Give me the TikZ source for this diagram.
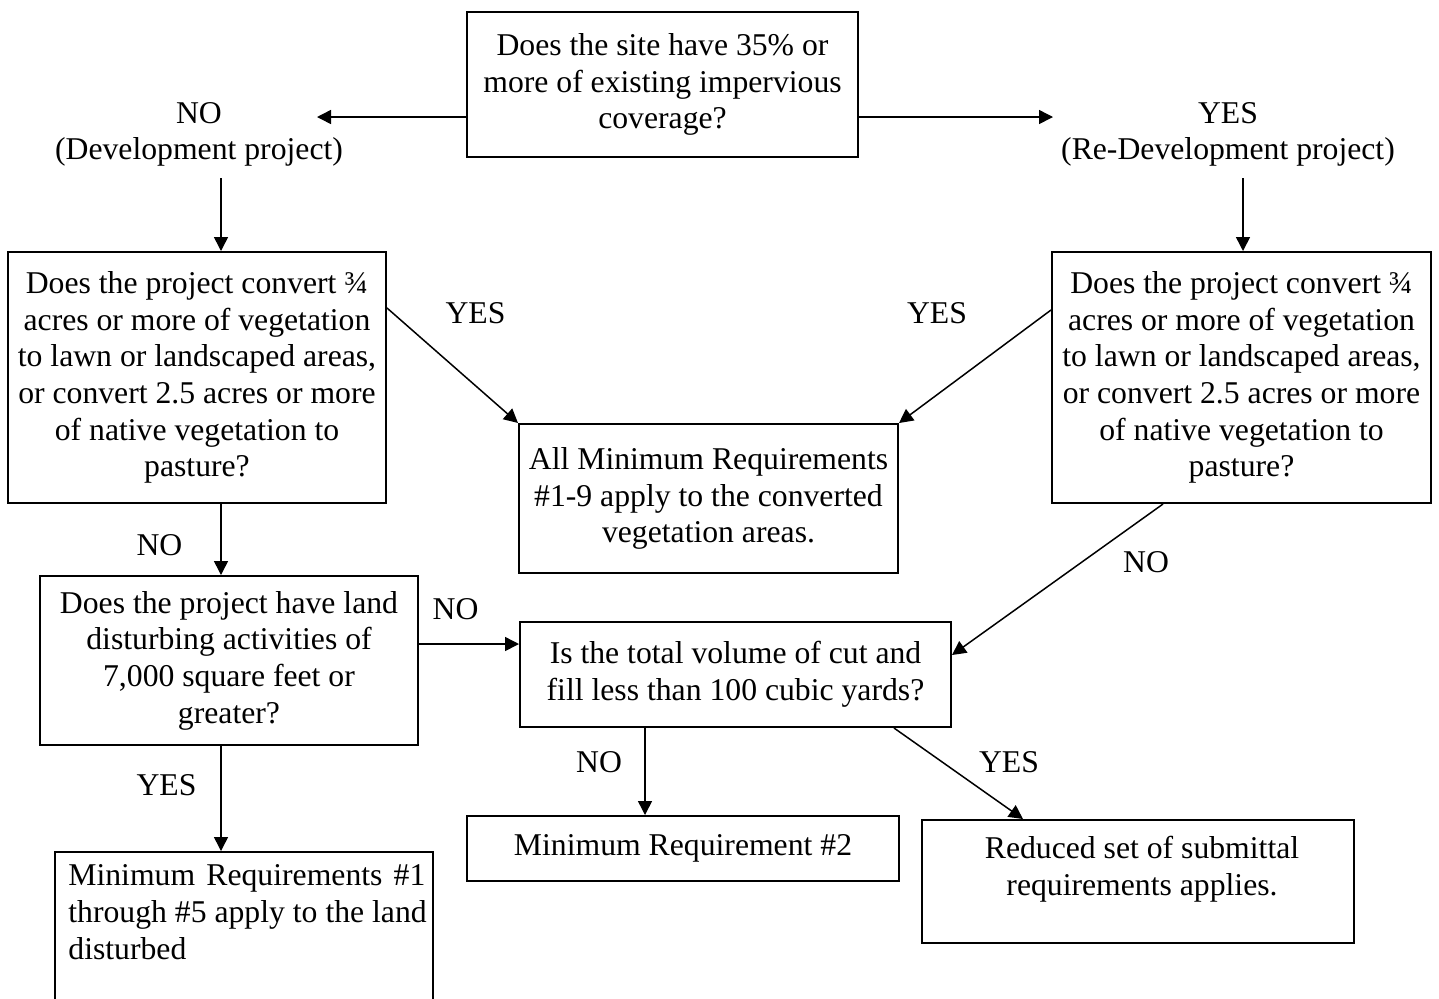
\documentclass[tikz,border=0pt]{standalone}
\usepackage{fontspec}
\setmainfont{Liberation Serif}
\usetikzlibrary{arrows.meta}
\begin{document}
\begin{tikzpicture}[x=0.5pt,y=-0.5pt,
  font=\fontsize{15.85}{18.35}\selectfont,
  box/.style={draw, line width=1pt, inner sep=0pt, align=center, rectangle},
  arr/.style={-{Triangle[length=7pt,width=7pt]}, line width=0.75pt},
  lbl/.style={inner sep=0pt, align=center}]
\useasboundingbox (0,0) rectangle (1439,998);
\fill[white] (0,0) rectangle (1439,998);
\clip (0,0) rectangle (1439,998);

% boxes
\node[box, minimum width=195.5pt, minimum height=72.5pt] (top) at (662.5,84.5)
  {Does the site have 35\% or\\more of existing impervious\\coverage?};
\node[box, minimum width=189pt, minimum height=125.5pt] (lb1) at (197,377.5)
  {Does the project convert ¾\\acres or more of vegetation\\to lawn or landscaped areas,\\or convert 2.5 acres or more\\of native vegetation to\\pasture?};
\node[box, minimum width=189.5pt, minimum height=125.5pt] (rb1) at (1241.5,377.5)
  {Does the project convert ¾\\acres or more of vegetation\\to lawn or landscaped areas,\\or convert 2.5 acres or more\\of native vegetation to\\pasture?};
\node[box, minimum width=189.5pt, minimum height=74.5pt] (mid) at (708.5,498.5)
  {All Minimum Requirements\\\#1-9 apply to the converted\\vegetation areas.};
\node[box, minimum width=189pt, minimum height=84.5pt] (lb2) at (229,660.5)
  {Does the project have land\\disturbing activities of\\7,000 square feet or\\greater?};
\node[box, minimum width=215.5pt, minimum height=52.5pt] (cut) at (735.5,674.5)
  {Is the total volume of cut and\\fill less than 100 cubic yards?};
\node[box, minimum width=216pt, minimum height=32.5pt] (mr2) at (683,848.5)
  {Minimum Requirement \#2};
\node[box, minimum width=216pt, minimum height=61.5pt] (red) at (1138,881.5) {};
\node[lbl] (redtxt) at (1142,869) {Reduced set of submittal\\requirements applies.};
\node[box, minimum width=189pt, minimum height=79pt] (mr15) at (244,931) {};
\node[inner sep=0pt, anchor=north west, align=left] (mr15txt) at (68,864.5)
  {\makebox[178.5pt][s]{Minimum Requirements \#1}\\through \#5 apply to the land\\disturbed};

% labels
\node[lbl] (nodev) at (199,134.5) {NO\\(Development project)};
\node[lbl] (yesredev) at (1228,134.5) {YES\\(Re-Development project)};
\node[lbl] (yesl) at (475.5,313) {YES};
\node[lbl] (yesr) at (937,313) {YES};
\node[lbl] (nol) at (159.5,545) {NO};
\node[lbl] (nom) at (455.5,609) {NO};
\node[lbl] (nor) at (1146,562) {NO};
\node[lbl] (nob) at (599,762) {NO};
\node[lbl] (yesb) at (1009,762) {YES};
\node[lbl] (yesll) at (166.5,785) {YES};

% connectors
\coordinate (noend) at (317,117);
\coordinate (yesend) at (1053,117);
\coordinate (d1) at (221,178);
\coordinate (d2) at (1243,178);
\draw[arr] ([yshift=-16.25pt]top.west) -- (noend);
\draw[arr] ([yshift=-16.25pt]top.east) -- (yesend);
\draw[arr] (d1) -- (d1 |- lb1.north);
\draw[arr] (d2) -- (d2 |- rb1.north);
\draw[arr] ([yshift=34.75pt]lb1.east) -- (mid.north west);
\draw[arr] ([yshift=33.75pt]rb1.west) -- (mid.north east);
\draw[arr] ([xshift=12pt]lb1.south) -- ([xshift=12pt]lb1.south |- lb2.north);
\draw[arr] ([yshift=8.25pt]lb2.east) -- ([yshift=8.25pt]lb2.east -| cut.west);
\draw[arr] ([xshift=-39.25pt]rb1.south) -- ([yshift=9.75pt]cut.east);
\draw[arr] ([xshift=-45.25pt]cut.south) -- ([xshift=-45.25pt]cut.south |- mr2.north);
\draw[arr] ([xshift=79.25pt]cut.south) -- ([xshift=-57.5pt]red.north);
\draw[arr] ([xshift=-4pt]lb2.south) -- ([xshift=-4pt]lb2.south |- mr15.north);
\end{tikzpicture}
\end{document}
